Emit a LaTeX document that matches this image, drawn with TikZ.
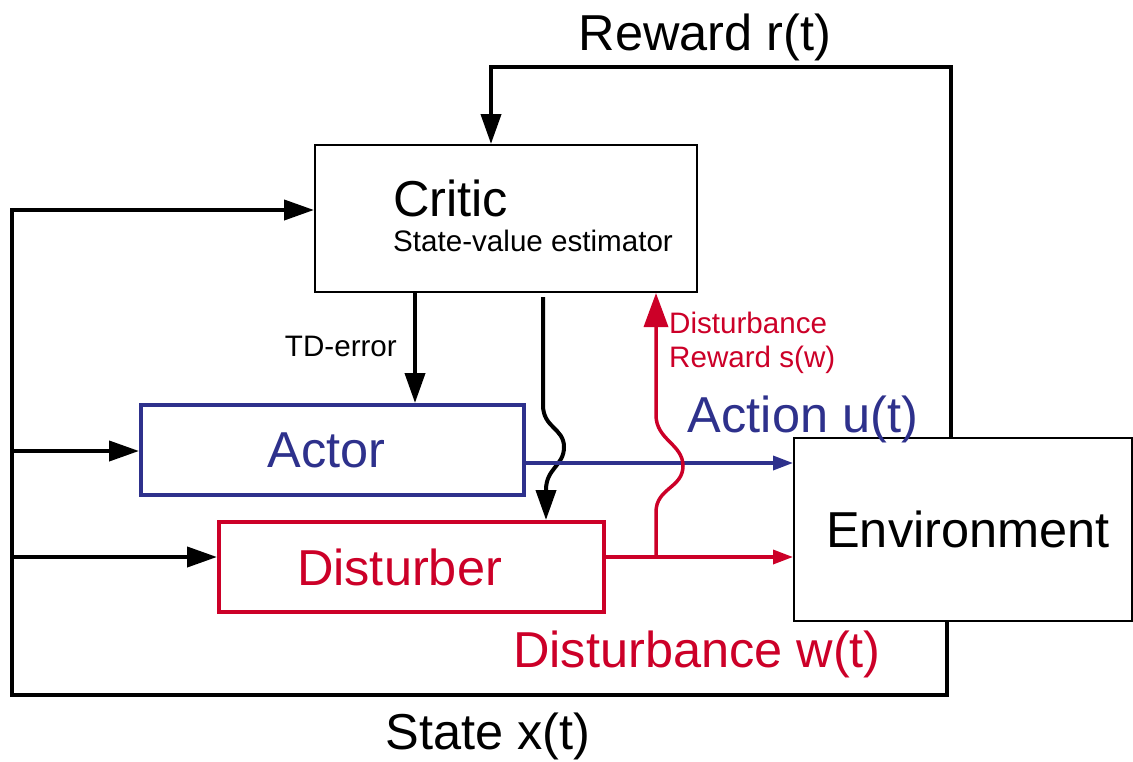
\documentclass[tikz,border=0pt]{standalone}
\usepackage{fontspec}
\setmainfont{Liberation Sans}
\usetikzlibrary{arrows.meta}
\definecolor{ablue}{RGB}{46,49,140}
\definecolor{dred}{RGB}{204,0,40}
\begin{document}
\begin{tikzpicture}[x=1pt,y=-1pt,
  box/.style={draw, rectangle, inner sep=0pt, anchor=center},
  big/.style={font=\fontsize{50.5}{60}\selectfont},
  small/.style={font=\fontsize{29.6}{34}\selectfont},
  blk/.style={line width=4pt, -{Triangle[length=30pt,width=20pt]}},
  bluearr/.style={draw=ablue, line width=3.5pt, -{Triangle[length=20pt,width=14pt]}},
  redarr/.style={draw=dred, line width=3.5pt, -{Triangle[length=20pt,width=14pt]}},
  redup/.style={draw=dred, line width=3.5pt, -{Triangle[length=34pt,width=24pt]}},
]
\useasboundingbox (0,0) rectangle (1133,761);

% boxes
\node[box, line width=2pt, minimum width=382pt, minimum height=147pt] (critic) at (506,218.5) {};
\node[box, draw=ablue, text=ablue, line width=4pt, minimum width=383pt, minimum height=90pt, big] (actor) at (332.5,450) {\hspace*{-12pt}Actor};
\node[box, draw=dred, text=dred, line width=4pt, minimum width=385pt, minimum height=90pt, big] (disturber) at (411.5,567) {\hspace*{-24pt}Disturber};
\node[box, line width=2pt, minimum width=338pt, minimum height=183pt, big] (env) at (963,529.5) {\hspace*{10pt}Environment};

% critic texts
\node[big, anchor=base west, inner sep=0pt] (ctitle) at (393,216) {Critic};
\node[small, anchor=base west, inner sep=0pt] (csub) at (393,251) {State-value estimator};

% coordinates
\coordinate (rw) at (491,67);
\coordinate (re) at (951,67);
\coordinate (sl) at (12,695);
\coordinate (sr) at (947,695);
\coordinate (sc) at (12,210);
\coordinate (sa) at (12,451);
\coordinate (sd) at (12,557);
\coordinate (td) at (415,0);
\coordinate (cw) at (543,0);
\coordinate (dw) at (546,0);
\coordinate (ya) at (0,463);
\coordinate (yd) at (0,557);
\coordinate (rb) at (656,557);

% reward loop
\draw[blk] (env.north -| re) -- (re) -- (rw) -- (critic.north -| rw);
% state loop
\draw[blk] (env.south -| sr) -- (sr) -- (sl) -- (sc) -- (critic.west |- sc);
\draw[blk] (sa) -- (actor.west |- sa);
\draw[blk] (sd) -- (disturber.west |- sd);
% TD-error
\draw[blk] (critic.south -| td) -- (actor.north -| td);
% critic to disturber with jump
\draw[blk] ([yshift=-4pt]critic.south -| cw) -- (543,405)
  .. controls (543,428) and (564,428) .. (564,447)
  .. controls (564,466) and (546,468) .. (546,490)
  -- (disturber.north -| dw);
% action
\draw[bluearr] (actor.east |- ya) -- (env.west |- ya);
% disturbance
\draw[redarr] (disturber.east |- yd) -- (env.west |- yd);
\draw[redup] (rb) -- (656,512)
  .. controls (656,488) and (683,488) .. (683,466)
  .. controls (683,444) and (656,440) .. (656,415)
  -- (critic.south -| rb);

% labels
\node[big, anchor=base, inner sep=0pt] (lrew) at (705,50) {Reward r(t)};
\node[big, anchor=base, inner sep=0pt] (lstate) at (488,749) {State x(t)};
\node[small, anchor=base east, inner sep=0pt] (ltd) at (397,356) {TD-error};
\node[small, anchor=west, align=left, text=dred, inner sep=0pt] (lsw) at (669,343) {Disturbance\\Reward s(w)};
\node[big, anchor=base, inner sep=0pt, text=ablue] (lact) at (803,432) {Action u(t)};
\node[big, anchor=base, inner sep=0pt, text=dred] (ldw) at (697,667) {Disturbance w(t)};
\end{tikzpicture}
\end{document}
